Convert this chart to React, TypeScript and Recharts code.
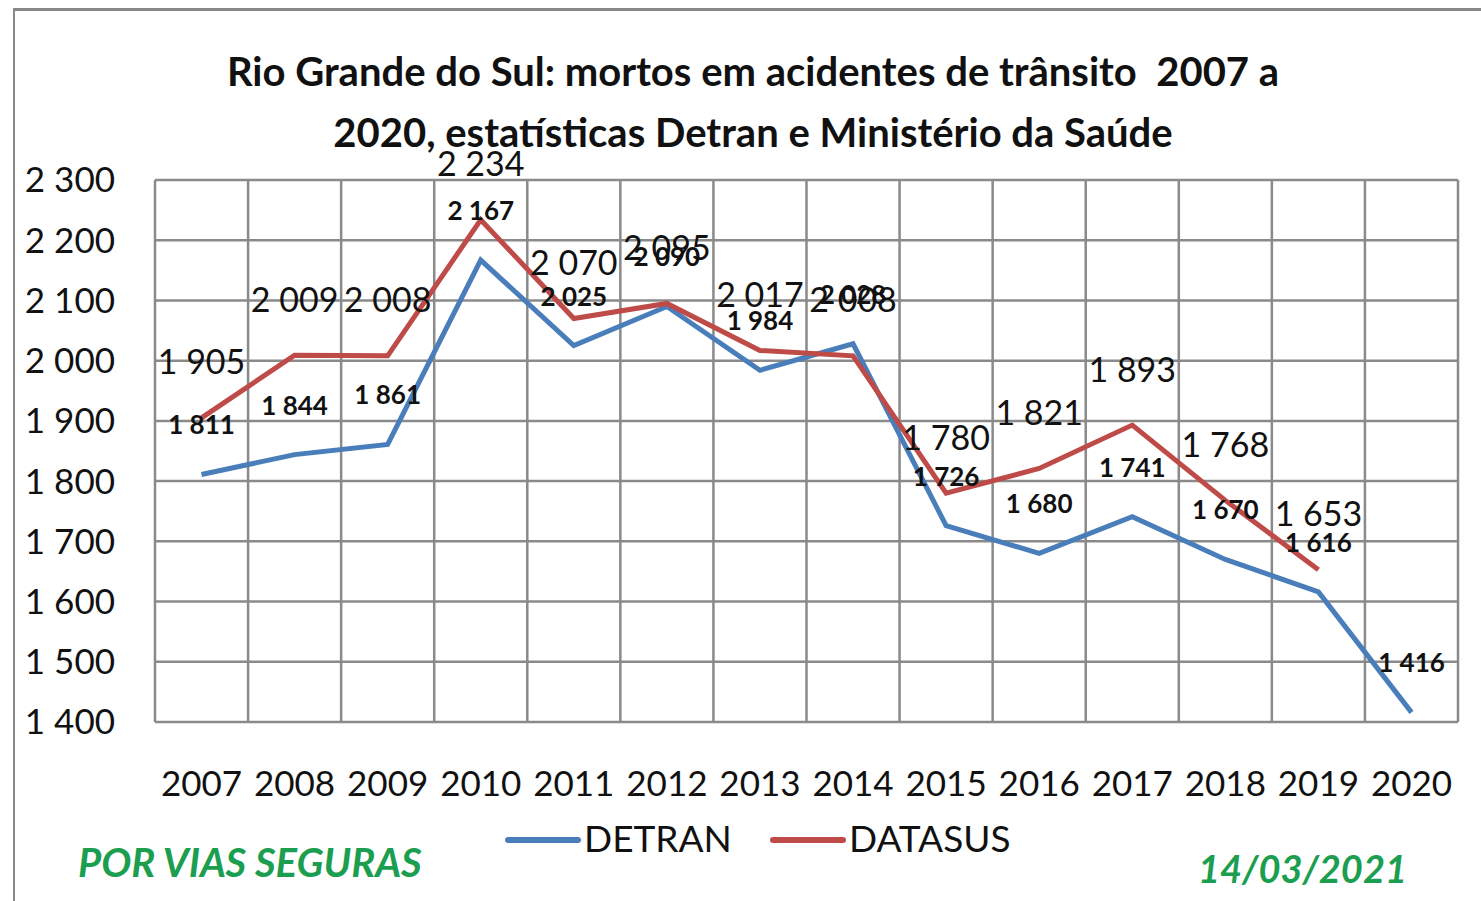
import React from "react";
import { LineChart, Line, XAxis, YAxis, CartesianGrid, LabelList } from "recharts";

const years = ["2007", "2008", "2009", "2010", "2011", "2012", "2013", "2014", "2015", "2016", "2017", "2018", "2019", "2020"];
const detran = [1811, 1844, 1861, 2167, 2025, 2090, 1984, 2028, 1726, 1680, 1741, 1670, 1616, 1416];
const datasus: (number | null)[] = [1905, 2009, 2008, 2234, 2070, 2095, 2017, 2008, 1780, 1821, 1893, 1768, 1653, null];
const yTicks = [1400, 1500, 1600, 1700, 1800, 1900, 2000, 2100, 2200, 2300];

const data = years.map((y, i) => ({ year: y, detran: detran[i], datasus: datasus[i] }));

const FONT = "Lato, 'Open Sans', sans-serif";
const BLUE = "#4A7EBB";
const RED = "#BE4B48";
const GREEN = "#1B9E50";

const fmt = (v: number) => `${Math.floor(v / 1000)} ${String(v % 1000).padStart(3, "0")}`;

const makeLabel = (dyUp: number, size: number, weight: number) => (props: any) => {
  const { x, y, value } = props;
  if (value == null) return null;
  return (
    <text x={x} y={y - dyUp} textAnchor="middle" dominantBaseline="central" fontSize={size} fontWeight={weight} fill="#111" fontFamily={FONT}>
      {fmt(value)}
    </text>
  );
};

export default function App() {
  return (
    <div style={{ position: "absolute", left: 0, top: 0, width: 1481, height: 901, background: "#fff", overflow: "hidden", fontFamily: FONT }}>
      <div style={{ position: "absolute", left: 13, top: 8, width: 1500, height: 1000, borderLeft: "2px solid #888", borderTop: "3px solid #888" }} />
      <div style={{ position: "absolute", left: 0, width: 1506, top: 41, textAlign: "center", fontSize: 40, fontWeight: 700, color: "#111", lineHeight: "61px" }}>
        Rio Grande do Sul: mortos em acidentes de trânsito&nbsp; 2007 a<br />2020, estatísticas Detran e Ministério da Saúde
      </div>
      <LineChart width={1481} height={901} data={data} margin={{ top: 180, right: 23, bottom: 119, left: 15 }} style={{ position: "absolute", left: 0, top: 0 }}>
        <CartesianGrid
          stroke="#8a8a8a"
          strokeWidth={2.5}
          horizontalValues={yTicks}
          verticalCoordinatesGenerator={({ offset }: any) => {
            const n = years.length;
            const w = offset.width / n;
            return Array.from({ length: n + 1 }, (_, i) => offset.left + i * w);
          }}
        />
        <XAxis
          dataKey="year"
          axisLine={false}
          tickLine={false}
          tickSize={0}
          tickMargin={49}
          height={60}
          interval={0}
          padding={{ left: 46.5, right: 46.5 }}
          tick={{ fontSize: 35, fill: "#111", fontFamily: FONT }}
        />
        <YAxis
          domain={[1400, 2300]}
          ticks={yTicks}
          width={140}
          axisLine={false}
          tickLine={false}
          tickSize={0}
          tickMargin={40}
          interval={0}
          tickFormatter={fmt}
          tick={{ fontSize: 35, fill: "#111", fontFamily: FONT }}
        />
        <Line dataKey="detran" stroke={BLUE} strokeWidth={5} dot={false} isAnimationActive={false}>
          <LabelList dataKey="detran" content={makeLabel(50, 26, 700)} />
        </Line>
        <Line dataKey="datasus" stroke={RED} strokeWidth={5} dot={false} isAnimationActive={false}>
          <LabelList dataKey="datasus" content={makeLabel(57, 34, 400)} />
        </Line>
      </LineChart>
      <div style={{ position: "absolute", left: 505, top: 837, width: 76, height: 6, background: BLUE, borderRadius: 3 }} />
      <div style={{ position: "absolute", left: 584, top: 814, fontSize: 37, color: "#111", lineHeight: "48px" }}>DETRAN</div>
      <div style={{ position: "absolute", left: 770, top: 837, width: 76, height: 6, background: RED, borderRadius: 3 }} />
      <div style={{ position: "absolute", left: 849, top: 814, fontSize: 37, color: "#111", lineHeight: "48px" }}>DATASUS</div>
      <div style={{ position: "absolute", left: 78, top: 836, fontSize: 40, fontStyle: "italic", fontWeight: 700, color: GREEN, lineHeight: "52px" }}>POR VIAS SEGURAS</div>
      <div style={{ position: "absolute", left: 1198, top: 843, fontSize: 38, fontStyle: "italic", fontWeight: 700, color: GREEN, lineHeight: "50px" }}>14/03/2021</div>
    </div>
  );
}
